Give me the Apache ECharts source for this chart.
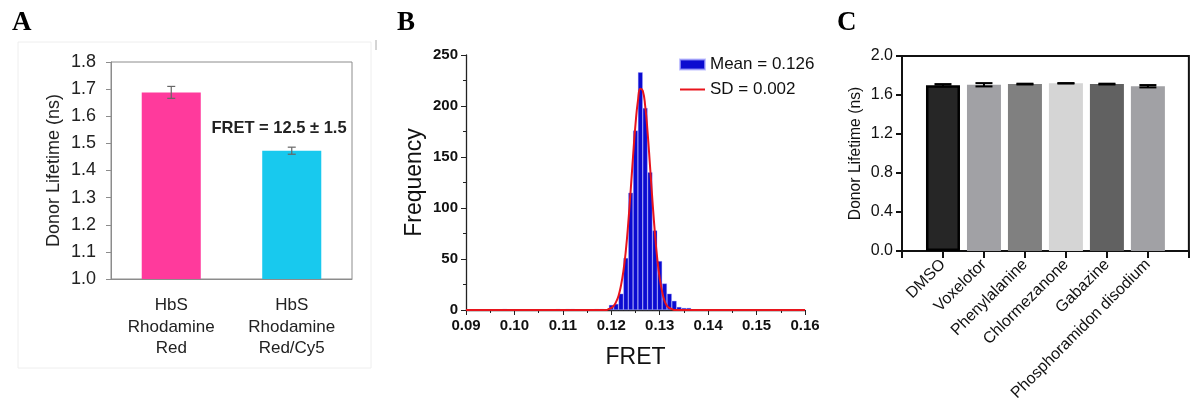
<!DOCTYPE html>
<html>
<head>
<meta charset="utf-8">
<script src="https://cdn.jsdelivr.net/npm/echarts@6/dist/echarts.min.js"></script>
<style>
  html, body { margin: 0; padding: 0; background: #fff; }
  #chart { width: 1191px; height: 404px; }
</style>
</head>
<body>
<div id="chart"></div>
<script>
// panel A - donor lifetime, two samples
const aCategories = ['HbS\nRhodamine\nRed', 'HbS\nRhodamine\nRed/Cy5']
const aValues = [1.688, 1.473]
const aErrors = [0.022, 0.013]
const aColors = ['#ff3a9c', '#18c9ee']

// panel B - FRET histogram (bin width 0.001) and fitted curve
const histX = [0.098, 0.109, 0.111, 0.112, 0.117, 0.118, 0.120, 0.121, 0.122, 0.123, 0.124, 0.125,
  0.126, 0.127, 0.128, 0.129, 0.130, 0.131, 0.132, 0.133, 0.134, 0.135, 0.136]
const histY = [1, 1, 1, 1, 1, 1, 5, 6, 16, 51, 115, 176, 233, 198, 135, 78, 48, 26, 16, 9, 3, 2, 2]
const curveX = [0.090, 0.119, 0.1195, 0.120, 0.1205, 0.121, 0.1215, 0.122, 0.1225, 0.123, 0.1235,
  0.124, 0.1245, 0.125, 0.1255, 0.126, 0.1265, 0.127, 0.1275, 0.128, 0.1285, 0.129, 0.1295,
  0.130, 0.1305, 0.131, 0.1315, 0.132, 0.1325, 0.133, 0.160]
const curveY = [0, 0, 1, 2, 4, 8, 14, 24, 38, 58, 85, 117, 151, 182, 205, 217, 215, 200, 174, 141,
  107, 76, 50, 31, 18, 9, 4, 2, 1, 0, 0]

// panel C - donor lifetime per compound
const cCategories = ['', 'DMSO', 'Voxelotor', 'Phenylalanine', 'Chlormezanone', 'Gabazine', 'Phosphoramidon disodium', '']
const cValues = [null, 1.70, 1.705, 1.712, 1.72, 1.712, 1.69, null]
const cErrors = [null, 0.012, 0.017, 0.004, 0.002, 0.004, 0.012, null]
const cColors = ['#fff', '#262626', '#a1a1a5', '#808080', '#d5d5d5', '#616161', '#a1a1a5', '#fff']

const sans = 'Liberation Sans, Arial, sans-serif'

function errorSeries(xAxisIndex, yAxisIndex, cats, vals, errs, color, cap, width) {
    const data = []
    cats.forEach((c, i) => {
        if (vals[i] != null) data.push([i, vals[i], errs[i]])
    })
    return {
        type: 'custom',
        xAxisIndex: xAxisIndex,
        yAxisIndex: yAxisIndex,
        z: 10,
        data: data,
        renderItem: function (params, api) {
            const x = api.value(0), v = api.value(1), e = api.value(2)
            const hi = api.coord([x, v + e])
            const lo = api.coord([x, v - e])
            const style = { stroke: color, lineWidth: width }
            return {
                type: 'group',
                children: [
                    { type: 'line', shape: { x1: hi[0], y1: hi[1], x2: lo[0], y2: lo[1] }, style: style },
                    { type: 'line', shape: { x1: hi[0] - cap, y1: hi[1], x2: hi[0] + cap, y2: hi[1] }, style: style },
                    { type: 'line', shape: { x1: lo[0] - cap, y1: lo[1], x2: lo[0] + cap, y2: lo[1] }, style: style }
                ]
            }
        }
    }
}

let chart = echarts.init(document.getElementById('chart'))
chart.setOption({
    animation: false,
    textStyle: { fontFamily: sans },
    graphic: [
        { type: 'text', left: 12, top: 10, style: { text: 'A', font: 'bold 27px Liberation Serif', fill: '#000' } },
        { type: 'text', left: 397, top: 10, style: { text: 'B', font: 'bold 27px Liberation Serif', fill: '#000' } },
        { type: 'text', left: 837, top: 10, style: { text: 'C', font: 'bold 27px Liberation Serif', fill: '#000' } },
        { type: 'rect', shape: { x: 18, y: 42, width: 353, height: 326 }, style: { fill: 'none', stroke: '#eeeeee', lineWidth: 1 } },
        { type: 'line', shape: { x1: 376, y1: 40, x2: 376, y2: 50 }, style: { stroke: '#aaa', lineWidth: 1 } },
        { type: 'text', x: 279, y: 128, style: { text: 'FRET = 12.5 ± 1.5', font: 'bold 16.5px Liberation Sans', fill: '#222', align: 'center', verticalAlign: 'middle' } }
    ],
    legend: {
        left: 674, top: 51, orient: 'vertical', itemGap: 8, itemWidth: 25, itemHeight: 10,
        textStyle: { fontSize: 17, color: '#111', fontFamily: sans },
        data: [
            { name: 'Mean = 0.126', icon: 'rect' },
            { name: 'SD = 0.002', itemStyle: { opacity: 0 } }
        ]
    },
    grid: [
        { left: 111, top: 62, width: 241, height: 217, show: true, borderColor: '#8c8c8c', borderWidth: 1 },
        { left: 466, top: 55, width: 339, height: 255 },
        { left: 902, top: 56, width: 301, height: 195, show: true, borderColor: '#111', borderWidth: 2 }
    ],
    xAxis: [
        {
            gridIndex: 0, type: 'category', data: aCategories,
            axisLine: { lineStyle: { color: '#8c8c8c' } }, axisTick: { show: false },
            axisLabel: { fontSize: 17, color: '#222', lineHeight: 21.5, margin: 16 }
        },
        {
            gridIndex: 1, type: 'value', min: 0.09, max: 0.16, interval: 0.01,
            name: 'FRET', nameLocation: 'middle', nameGap: 36,
            nameTextStyle: { fontSize: 23, color: '#111' },
            axisLine: { onZero: false, lineStyle: { color: '#222', width: 1.3 } },
            axisTick: { length: 5, lineStyle: { color: '#222' } },
            minorTick: { show: true, splitNumber: 2, length: 3, lineStyle: { color: '#222' } },
            splitLine: { show: false },
            axisLabel: { fontSize: 15, fontWeight: 'bold', color: '#111', margin: 8, formatter: v => v.toFixed(2) }
        },
        {
            gridIndex: 2, type: 'category', data: cCategories, boundaryGap: false,
            axisLine: { lineStyle: { color: '#111', width: 2 } },
            axisTick: { length: 7, lineStyle: { color: '#111', width: 2 } },
            axisLabel: { fontSize: 16, color: '#111', rotate: 45, margin: 11, interval: 0 }
        }
    ],
    yAxis: [
        {
            gridIndex: 0, type: 'value', min: 1.0, max: 1.8, interval: 0.1,
            name: 'Donor Lifetime (ns)', nameLocation: 'middle', nameGap: 48,
            nameTextStyle: { fontSize: 18, color: '#222' },
            axisLine: { show: true, lineStyle: { color: '#8c8c8c' } },
            axisTick: { show: true, length: 5, lineStyle: { color: '#8c8c8c' } },
            splitLine: { show: false },
            axisLabel: { fontSize: 18, color: '#222', margin: 15, formatter: v => v.toFixed(1) }
        },
        {
            gridIndex: 1, type: 'value', min: 0, max: 250, interval: 50,
            name: 'Frequency', nameLocation: 'middle', nameGap: 40,
            nameTextStyle: { fontSize: 23, color: '#111' },
            axisLine: { show: true, lineStyle: { color: '#222', width: 1.3 } },
            axisTick: { show: true, length: 5, lineStyle: { color: '#222' } },
            minorTick: { show: true, splitNumber: 2, length: 3, lineStyle: { color: '#222' } },
            splitLine: { show: false },
            axisLabel: { fontSize: 15, fontWeight: 'bold', color: '#111', margin: 8 }
        },
        {
            gridIndex: 2, type: 'value', min: 0, max: 2.0, interval: 0.4,
            name: 'Donor Lifetime (ns)', nameLocation: 'middle', nameGap: 38,
            nameTextStyle: { fontSize: 15.7, color: '#111' },
            axisLine: { show: true, lineStyle: { color: '#111', width: 2 } },
            axisTick: { show: true, length: 6, lineStyle: { color: '#111', width: 2 } },
            splitLine: { show: false },
            axisLabel: { fontSize: 16, color: '#111', margin: 9, formatter: v => v.toFixed(1) }
        }
    ],
    series: [
        {
            type: 'bar', xAxisIndex: 0, yAxisIndex: 0, barWidth: '49%',
            data: aValues.map((v, i) => ({ value: v, itemStyle: { color: aColors[i] } }))
        },
        errorSeries(0, 0, aCategories, aValues, aErrors, '#666', 4, 1.2),
        {
            name: 'Mean = 0.126', type: 'bar', xAxisIndex: 1, yAxisIndex: 1, barWidth: 4.8,
            itemStyle: { color: '#0b0bd0', borderColor: 'rgba(170,170,255,0.7)', borderWidth: 0.5 },
            data: histX.map((x, i) => [x, histY[i]])
        },
        {
            name: 'SD = 0.002', type: 'line', xAxisIndex: 1, yAxisIndex: 1, smooth: true,
            symbol: 'none', z: 5,
            lineStyle: { color: '#e8141c', width: 2 }, itemStyle: { color: '#e8141c' },
            data: curveX.map((x, i) => [x, curveY[i]])
        },
        {
            type: 'bar', xAxisIndex: 2, yAxisIndex: 2, barWidth: 34,
            data: cValues.map((v, i) => ({
                value: v,
                itemStyle: i === 1 ? { color: cColors[i], borderColor: '#000', borderWidth: 2.5 } : { color: cColors[i] }
            }))
        },
        errorSeries(2, 2, cCategories, cValues, cErrors, '#000', 8.5, 2)
    ]
})
</script>
</body>
</html>
